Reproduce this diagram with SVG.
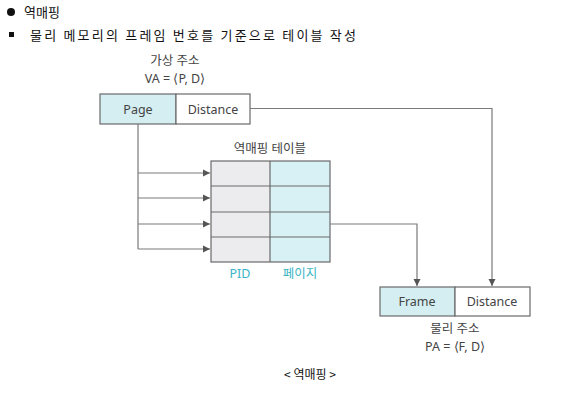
<svg xmlns="http://www.w3.org/2000/svg" width="588" height="403" viewBox="0 0 588 403">
<defs>
<style>
.t{font-family:"Noto Sans CJK KR","Noto Sans",sans-serif;font-size:13px;fill:#111}
.d{font-family:"Noto Sans","Noto Sans CJK KR",sans-serif;font-size:12.5px;fill:#444;text-anchor:middle}
.c{font-family:"Noto Sans","Noto Sans CJK KR",sans-serif;font-size:12.5px;fill:#3ab4c4;text-anchor:middle}
.box{stroke:#6a6a6a;stroke-width:1.2}
.ln{fill:none;stroke:#7a7a7a;stroke-width:1.2}
</style>
<marker id="ah" markerWidth="8" markerHeight="8" refX="7" refY="4" orient="auto" markerUnits="userSpaceOnUse">
<path d="M0,0.5 L7,4 L0,7.5 Z" fill="#555"/>
</marker>
</defs>
<rect width="588" height="403" fill="#fff"/>
<g id="header">
<circle cx="11" cy="12" r="4" fill="#111"/>
<text class="t" x="24" y="17">역매핑</text>
<rect x="9" y="32" width="5" height="5" fill="#111"/>
<text class="t" x="30" y="40" textLength="326">물리 메모리의 프레임 번호를 기준으로 테이블 작성</text>
</g>
<g id="virtual-address">
<rect class="box" x="100" y="94" width="76" height="30" fill="#d4eef2"/>
<rect class="box" x="176" y="94" width="74" height="30" fill="#fff"/>
<text class="d" x="138" y="114">Page</text>
<text class="d" x="213" y="114">Distance</text>
<text class="d" x="175" y="65">가상 주소</text>
<text class="d" x="175" y="83">VA = ⟨P, D⟩</text>
</g>
<g id="reverse-table">
<rect x="211" y="161" width="59" height="101" fill="#ececef"/>
<rect x="270" y="161" width="60" height="101" fill="#d8f1f5"/>
<g class="box" fill="none">
<rect x="211" y="161" width="119" height="101"/>
<line x1="270" y1="161" x2="270" y2="262"/>
<line x1="211" y1="186" x2="330" y2="186"/>
<line x1="211" y1="212" x2="330" y2="212"/>
<line x1="211" y1="237" x2="330" y2="237"/>
</g>
<text class="d" x="270" y="153">역매핑 테이블</text>
<text class="c" x="240" y="278">PID</text>
<text class="c" x="300" y="278">페이지</text>
</g>
<g id="physical-address">
<rect class="box" x="380" y="287" width="75" height="29" fill="#d4eef2"/>
<rect class="box" x="455" y="287" width="75" height="29" fill="#fff"/>
<text class="d" x="417" y="306">Frame</text>
<text class="d" x="492" y="306">Distance</text>
<text class="d" x="455" y="333">물리 주소</text>
<text class="d" x="455" y="351">PA = ⟨F, D⟩</text>
</g>
<g id="connectors">
<path class="ln" d="M250,108.5 H492 V286" marker-end="url(#ah)"/>
<path class="ln" d="M138,124 V249"/>
<path class="ln" d="M138,173 H210" marker-end="url(#ah)"/>
<path class="ln" d="M138,198 H210" marker-end="url(#ah)"/>
<path class="ln" d="M138,224 H210" marker-end="url(#ah)"/>
<path class="ln" d="M138,249 H210" marker-end="url(#ah)"/>
<path class="ln" d="M330,224 H417 V286" marker-end="url(#ah)"/>
</g>
<g id="caption">
<text x="310" y="379" style="font-family:'Noto Sans CJK KR',sans-serif;font-size:12px;fill:#111;text-anchor:middle">&lt; 역매핑 &gt;</text>
</g>
</svg>
